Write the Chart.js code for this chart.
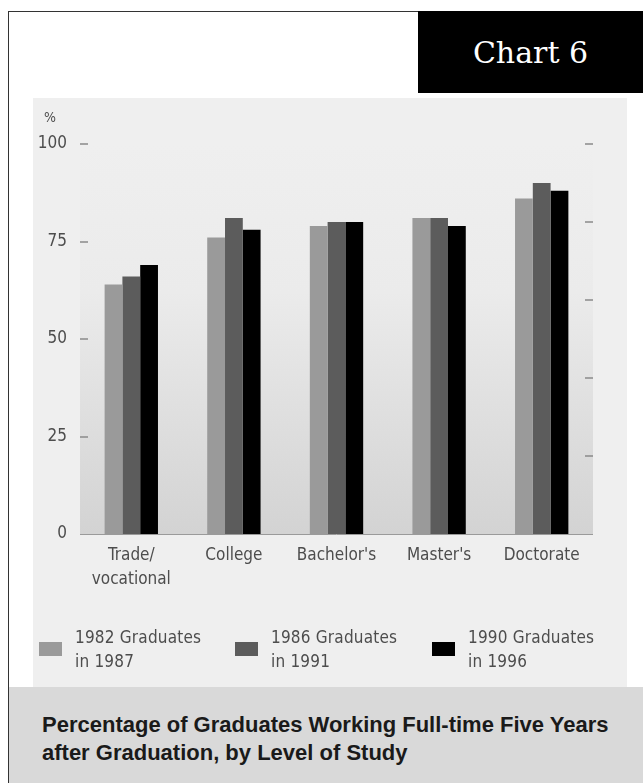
<!DOCTYPE html>
<html>
<head>
<meta charset="utf-8">
<script src="https://cdn.jsdelivr.net/npm/chart.js@4/dist/chart.umd.min.js"></script>
<style>
  html, body { margin: 0; padding: 0; }
  body {
    width: 643px; height: 783px; position: relative; overflow: hidden;
    background: #ffffff;
    font-family: 'DejaVu Sans Condensed', 'Liberation Sans', sans-serif;
  }
  #frame {
    position: absolute; left: 8px; top: 11px; width: 650px; height: 790px;
    border-left: 1px solid #333; border-top: 1px solid #333; box-sizing: border-box;
  }
  #tag {
    position: absolute; left: 418px; top: 11px; width: 225px; height: 82px;
    background: #000; color: #fff;
    font: 30px 'DejaVu Serif', serif;
    display: flex; align-items: center; justify-content: center;
  }
  #panel {
    position: absolute; left: 33px; top: 98px; width: 594px; height: 589px;
    background: #efefef;
  }
  #chart { position: absolute; left: 0; top: 0; }
  .key {
    position: absolute; top: 527px; height: 48px;
  }
  .swatch { position: absolute; left: 0; top: 17px; width: 23px; height: 14px; }
  .keytext {
    position: absolute; left: 36px; top: 0; white-space: nowrap;
    font-size: 17px; line-height: 24px; letter-spacing: 0.2px; color: #4d4d4d;
  }
  #caption {
    position: absolute; left: 9px; top: 687px; width: 634px; height: 96px;
    background: #d9d9d9; box-sizing: border-box;
    padding: 24px 0 0 33px;
    font-family: 'Liberation Sans', Arial, sans-serif; font-weight: bold;
    font-size: 22px; line-height: 28px; color: #1a1a1a;
  }
</style>
</head>
<body>
<div id="frame"></div>
<div id="tag">Chart 6</div>
<div id="panel">
  <canvas id="chart" width="594" height="589"></canvas>
</div>
<div id="caption">Percentage of Graduates Working Full-time Five Years<br>after Graduation, by Level of Study</div>

<script>
// Levels of study along the x axis
const categories = [['Trade/', 'vocational'], 'College', "Bachelor's", "Master's", 'Doctorate'];

// Share of graduates working full-time five years after graduation (%)
const grads1982 = [64, 76, 79, 81, 86];
const grads1986 = [66, 81, 80, 81, 90];
const grads1990 = [69, 78, 80, 79, 88];

// Series names, as two lines each
const seriesNames = [
  ['1982 Graduates', 'in 1987'],
  ['1986 Graduates', 'in 1991'],
  ['1990 Graduates', 'in 1996']
];
const seriesColors = ['#9a9a9a', '#5c5c5c', '#000000'];

// Value axis
const yMax = 100;
const yStep = 25;
const yUnit = '%';
// Unlabelled marks on the right edge
const rightMarkMax = 5;

const labelFont = "'DejaVu Sans Condensed', 'Liberation Sans', sans-serif";
const textGrey = '#4d4d4d';

// Shaded plot area, baseline, inner tick marks and the unit label
const panelDecor = {
  id: 'panelDecor',
  beforeDatasetsDraw(chart) {
    const { ctx, chartArea: a } = chart;
    const g = ctx.createLinearGradient(0, a.top, 0, a.bottom);
    g.addColorStop(0, '#efefef');
    g.addColorStop(0.38, '#ebebeb');
    g.addColorStop(1, '#d3d3d3');
    ctx.save();
    ctx.fillStyle = g;
    ctx.fillRect(a.left, a.top, a.right - a.left, a.bottom - a.top);
    ctx.restore();
  },
  afterDatasetsDraw(chart) {
    const { ctx, chartArea: a, scales } = chart;
    ctx.save();
    // baseline at zero
    const y0 = Math.round(scales.y.getPixelForValue(0)) + 0.5;
    ctx.strokeStyle = '#9a9a9a';
    ctx.lineWidth = 1;
    ctx.beginPath();
    ctx.moveTo(a.left, y0);
    ctx.lineTo(a.right, y0);
    ctx.stroke();
    // left tick marks
    ctx.strokeStyle = '#8a8a8a';
    ctx.lineWidth = 1.5;
    scales.y.ticks.forEach(t => {
      if (t.value === 0) return;
      const y = Math.round(scales.y.getPixelForValue(t.value));
      ctx.beginPath();
      ctx.moveTo(a.left, y);
      ctx.lineTo(a.left + 8, y);
      ctx.stroke();
    });
    // right tick marks
    scales.y2.ticks.forEach(t => {
      if (t.value === 0) return;
      const y = Math.round(scales.y2.getPixelForValue(t.value));
      ctx.beginPath();
      ctx.moveTo(a.right - 8, y);
      ctx.lineTo(a.right, y);
      ctx.stroke();
    });
    // unit label above the value axis
    ctx.fillStyle = textGrey;
    ctx.font = '14px ' + labelFont;
    ctx.textAlign = 'center';
    ctx.textBaseline = 'middle';
    ctx.fillText(yUnit, 17, scales.y.getPixelForValue(yMax) - 26);
    ctx.restore();
  }
};

const datasets = [grads1982, grads1986, grads1990].map((vals, i) => ({
  label: seriesNames[i].join(' '),
  data: vals,
  backgroundColor: seriesColors[i],
  borderWidth: 0,
  categoryPercentage: 0.52,
  barPercentage: 1.0,
  yAxisID: 'y'
}));

new Chart(document.getElementById('chart'), {
  type: 'bar',
  data: { labels: categories, datasets },
  options: {
    responsive: false,
    animation: false,
    devicePixelRatio: 1,
    layout: { padding: { top: 46, left: 0, right: 0, bottom: 0 } },
    plugins: { legend: { display: false }, tooltip: { enabled: false } },
    scales: {
      x: {
        grid: { display: false, drawTicks: false },
        border: { display: false },
        ticks: {
          color: textGrey,
          padding: 10,
          maxRotation: 0,
          autoSkip: false,
          font: { family: labelFont, size: 17, lineHeight: 1.4 }
        },
        afterFit(scale) { scale.height = 153; }
      },
      y: {
        position: 'left',
        min: 0, max: yMax,
        grid: { display: false, drawTicks: false },
        border: { display: false },
        ticks: {
          stepSize: yStep,
          color: textGrey,
          padding: 13,
          font: { family: labelFont, size: 17 }
        },
        afterFit(scale) { scale.width = 47; }
      },
      y2: {
        position: 'right',
        min: 0, max: rightMarkMax,
        grid: { display: false, drawTicks: false },
        border: { display: false },
        ticks: { stepSize: 1, display: false },
        afterFit(scale) { scale.width = 34; }
      }
    }
  },
  plugins: [panelDecor]
});

// Key below the chart, built from the series names and colours
const keyLeft = [6, 202, 399];
const panel = document.getElementById('panel');
seriesNames.forEach((lines, i) => {
  const item = document.createElement('div');
  item.className = 'key';
  item.style.left = keyLeft[i] + 'px';
  const sw = document.createElement('div');
  sw.className = 'swatch';
  sw.style.background = seriesColors[i];
  const tx = document.createElement('div');
  tx.className = 'keytext';
  tx.innerHTML = lines.join('<br>');
  item.appendChild(sw);
  item.appendChild(tx);
  panel.appendChild(item);
});
</script>
</body>
</html>
